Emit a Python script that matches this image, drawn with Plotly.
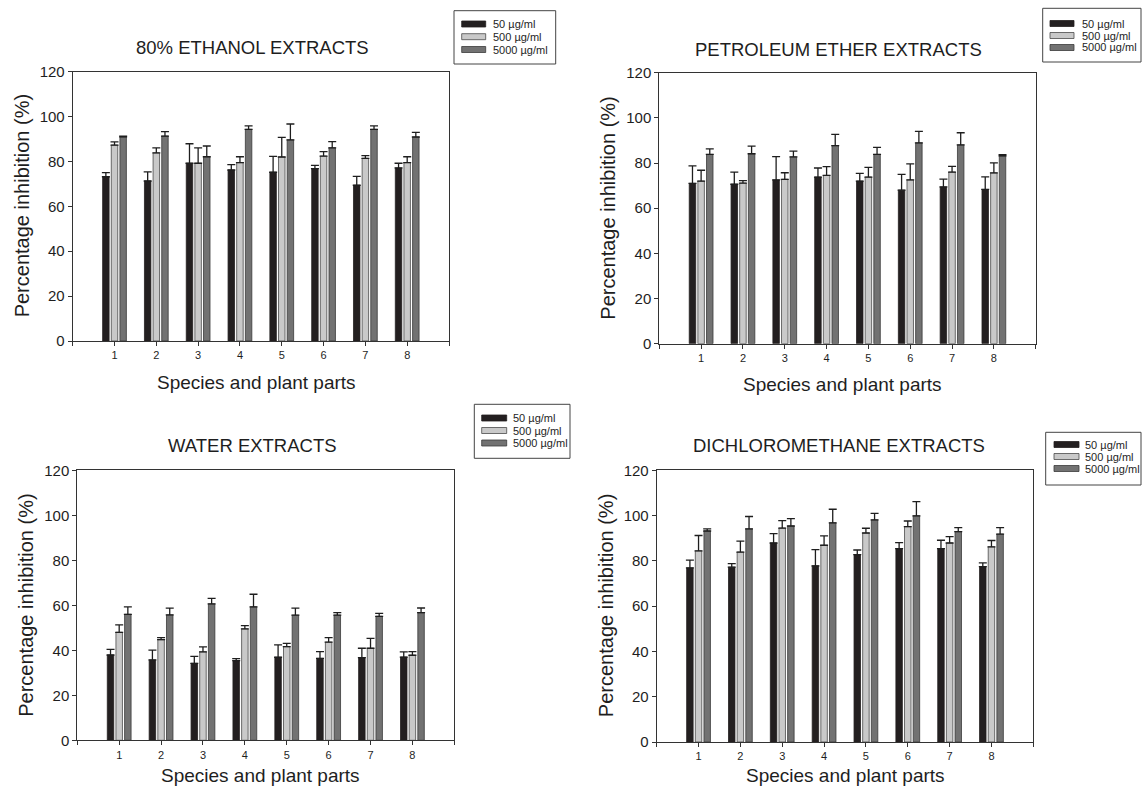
import plotly.graph_objects as go

W, H = 1142, 787

# ---------------- data ----------------
categories = [1, 2, 3, 4, 5, 6, 7, 8]
x_tick_vals = [0, 1, 2, 3, 4, 5, 6, 7, 8, 9]
x_tick_text = ["", "1", "2", "3", "4", "5", "6", "7", "8", ""]
y_tick_vals = [0, 20, 40, 60, 80, 100, 120]
series_names = ["50 µg/ml", "500 µg/ml", "5000 µg/ml"]

panel_titles = ["80% ETHANOL EXTRACTS", "PETROLEUM ETHER EXTRACTS",
                "WATER EXTRACTS", "DICHLOROMETHANE EXTRACTS"]
x_title = "Species and plant parts"
y_title = "Percentage inhibition (%)"

# 80% ethanol
eth_50 = [73.2, 71.3, 79.2, 76.2, 75.2, 76.8, 69.4, 77.1]
eth_50_err = [1.8, 4.1, 8.7, 2.4, 7.1, 1.5, 4.0, 2.1]
eth_500 = [87.3, 83.8, 79.2, 79.5, 82.0, 82.4, 81.4, 79.5]
eth_500_err = [1.4, 2.3, 6.9, 2.6, 8.7, 2.0, 1.2, 2.6]
eth_5000 = [91.0, 91.3, 82.1, 94.3, 89.6, 86.1, 94.3, 90.9]
eth_5000_err = [0.3, 2.0, 4.8, 1.6, 7.1, 2.7, 1.6, 2.1]

# petroleum ether
pet_50 = [71.0, 70.6, 72.5, 73.8, 72.0, 68.0, 69.4, 68.3]
pet_50_err = [7.7, 5.4, 10.3, 4.0, 3.4, 7.0, 3.5, 5.6]
pet_500 = [72.0, 71.1, 72.8, 74.5, 73.8, 72.5, 76.0, 75.6]
pet_500_err = [4.8, 1.1, 2.9, 3.9, 4.3, 7.1, 2.5, 4.5]
pet_5000 = [83.8, 84.1, 82.7, 87.7, 83.8, 88.9, 88.0, 83.2]
pet_5000_err = [2.5, 3.4, 2.6, 5.0, 3.1, 5.1, 5.4, 0.5]

# water
wat_50 = [37.9, 35.7, 34.2, 35.4, 36.9, 36.4, 36.7, 37.0]
wat_50_err = [2.5, 4.4, 3.1, 0.9, 5.5, 3.0, 4.2, 2.3]
wat_500 = [48.0, 44.7, 39.3, 49.5, 41.6, 43.6, 40.9, 37.8]
wat_500_err = [3.3, 0.9, 2.2, 1.5, 1.5, 2.0, 4.4, 1.6]
wat_5000 = [56.0, 55.7, 60.6, 59.3, 55.6, 55.6, 55.1, 56.7]
wat_5000_err = [3.3, 3.0, 2.5, 5.6, 3.1, 1.1, 1.3, 2.1]

# dichloromethane
dcm_50 = [76.9, 77.2, 87.9, 77.8, 82.8, 85.4, 85.4, 77.5]
dcm_50_err = [3.4, 1.6, 4.1, 7.2, 2.0, 2.7, 3.7, 1.6]
dcm_500 = [84.4, 83.9, 94.5, 86.9, 92.3, 95.1, 87.9, 86.2]
dcm_500_err = [6.8, 4.8, 3.3, 4.1, 2.1, 2.5, 2.8, 2.8]
dcm_5000 = [93.2, 94.1, 95.4, 96.8, 98.1, 99.9, 92.9, 91.8]
dcm_5000_err = [0.9, 5.5, 3.3, 6.0, 2.9, 6.3, 1.8, 2.9]

panels_values = [
    [(eth_50, eth_50_err), (eth_500, eth_500_err), (eth_5000, eth_5000_err)],
    [(pet_50, pet_50_err), (pet_500, pet_500_err), (pet_5000, pet_5000_err)],
    [(wat_50, wat_50_err), (wat_500, wat_500_err), (wat_5000, wat_5000_err)],
    [(dcm_50, dcm_50_err), (dcm_500, dcm_500_err), (dcm_5000, dcm_5000_err)],
]

# ---------------- styling / layout ----------------
FONT = "Liberation Sans, Arial, sans-serif"
TXT = "#1e1e1e"
fills = ["#231f20", "#c9c9c9", "#727272"]
outlines = ["#231f20", "#4a4a4a", "#3a3a3a"]


def X(px):
    return px / W


def Y(py):
    return 1 - py / H


# plot areas in pixels: (left, right, top, bottom)
boxes = [
    (72.7, 449.0, 71.7, 341.0),
    (659.3, 1035.7, 72.7, 343.7),
    (77.3, 454.3, 470.3, 740.3),
    (656.7, 1033.3, 470.3, 742.0),
]
title_pos = [(252, 47), (838.5, 49), (252, 445), (838.7, 445)]
xtitle_pos = [(256, 382), (842, 384), (260, 775), (845, 775)]
ytitle_x = [22, 608.5, 26.5, 606]

# legend boxes: (left, top, right, bottom, sw_left, sw_right, text_x, rows)
legends = [
    (454.0, 10.7, 555.7, 64.0, 461.7, 485.7, 490.7, [24.0, 36.7, 49.5]),
    (1042.7, 8.3, 1141.0, 62.0, 1050.0, 1074.0, 1080.0, [23.5, 35.5, 47.5]),
    (474.3, 404.3, 570.0, 458.3, 481.7, 506.7, 510.7, [418.0, 430.5, 443.0]),
    (1045.7, 432.3, 1141.0, 485.0, 1054.0, 1079.0, 1083.3, [444.5, 456.5, 468.5]),
]

fig = go.Figure()
layout = dict(
    width=W, height=H, autosize=False,
    margin=dict(l=0, r=0, t=0, b=0, pad=0, autoexpand=False),
    paper_bgcolor="white", plot_bgcolor="white",
    barmode="group", bargap=0.38, bargroupgap=0.25,
    showlegend=False,
    font=dict(family=FONT, color=TXT),
)

annotations = []
shapes = []

for p, (series, box) in enumerate(zip(panels_values, boxes)):
    sfx = "" if p == 0 else str(p + 1)
    xa, ya = "x" + sfx, "y" + sfx
    for s, (vals, errs) in enumerate(series):
        fig.add_trace(go.Bar(
            x=categories, y=vals, name=series_names[s],
            xaxis=xa, yaxis=ya,
            marker=dict(color=fills[s], line=dict(color=outlines[s], width=0.8)),
            error_y=dict(type="data", symmetric=False, array=errs,
                         arrayminus=[0] * len(errs),
                         color="#1e1e1e", thickness=1.3, width=4),
        ))
    l, r, t, b = box
    layout["xaxis" + sfx] = dict(
        domain=[X(l), X(r)], anchor=ya, range=[0, 9], automargin=False,
        tickmode="array", tickvals=x_tick_vals, ticktext=x_tick_text,
        ticks="outside", ticklen=4, tickwidth=1, tickcolor="#333",
        showline=True, linecolor="#333", linewidth=1, mirror=True,
        showgrid=False, zeroline=False,
        tickfont=dict(size=11, family=FONT, color=TXT),
    )
    layout["yaxis" + sfx] = dict(
        domain=[Y(b), Y(t)], anchor=xa, range=[0, 120], automargin=False,
        tickmode="array", tickvals=y_tick_vals,
        ticks="outside", ticklen=4, tickwidth=1, tickcolor="#333",
        showline=True, linecolor="#333", linewidth=1, mirror=True,
        showgrid=False, zeroline=False,
        tickfont=dict(size=15, family=FONT, color=TXT),
    )
    tx, ty = title_pos[p]
    annotations.append(dict(text=panel_titles[p], x=X(tx), y=Y(ty),
                            xref="paper", yref="paper", showarrow=False,
                            xanchor="center", yanchor="middle",
                            font=dict(size=18.5, family=FONT, color=TXT)))
    xx, xy = xtitle_pos[p]
    annotations.append(dict(text=x_title, x=X(xx), y=Y(xy),
                            xref="paper", yref="paper", showarrow=False,
                            xanchor="center", yanchor="middle",
                            font=dict(size=19, family=FONT, color=TXT)))
    annotations.append(dict(text=y_title, x=X(ytitle_x[p]), y=Y((t + b) / 2),
                            xref="paper", yref="paper", showarrow=False,
                            textangle=-90,
                            xanchor="center", yanchor="middle",
                            font=dict(size=20, family=FONT, color=TXT)))

    # legend
    L, T, R, B, sl, sr, txp, rows = legends[p]
    shapes.append(dict(type="rect", xref="paper", yref="paper",
                       x0=X(L), x1=X(R), y0=Y(B), y1=Y(T),
                       line=dict(color="#444", width=1), fillcolor="white"))
    for s, ry in enumerate(rows):
        shapes.append(dict(type="rect", xref="paper", yref="paper",
                           x0=X(sl), x1=X(sr), y0=Y(ry + 3), y1=Y(ry - 3),
                           line=dict(color=outlines[s], width=0.8),
                           fillcolor=fills[s]))
        annotations.append(dict(text=series_names[s], x=X(txp), y=Y(ry),
                                xref="paper", yref="paper", showarrow=False,
                                xanchor="left", yanchor="middle",
                                font=dict(size=11, family=FONT, color=TXT)))

layout["annotations"] = annotations
layout["shapes"] = shapes
fig.update_layout(**layout)
fig.write_html(
    "out.html",
    config={"displayModeBar": False, "responsive": False},
    post_script=("document.body.style.margin='0';"
                 "document.body.style.padding='0';"
                 "document.body.style.overflow='hidden';"),
)
